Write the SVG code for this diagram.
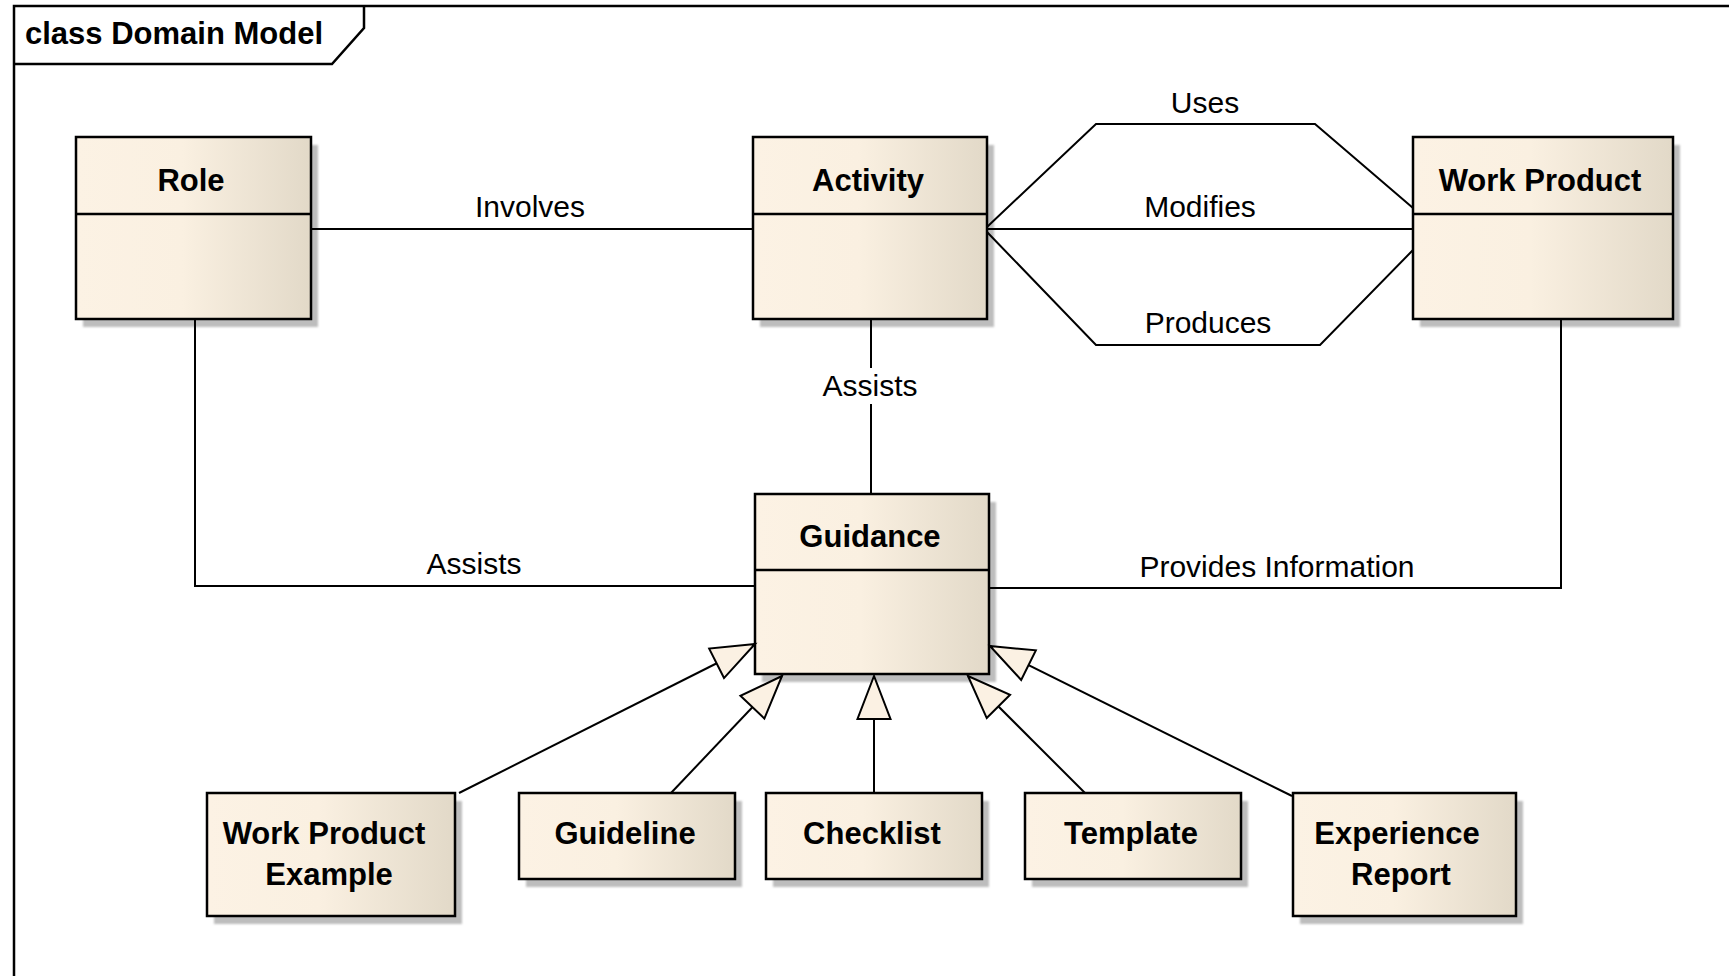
<svg xmlns="http://www.w3.org/2000/svg" width="1729" height="976" viewBox="0 0 1729 976">
<defs>
<linearGradient id="fill" x1="0" y1="0" x2="1" y2="0">
<stop offset="0" stop-color="#fcf2e4"/>
<stop offset="0.45" stop-color="#faf0e1"/>
<stop offset="1" stop-color="#e2d9c8"/>
</linearGradient>
<filter id="blur" x="-5%" y="-5%" width="110%" height="110%"><feGaussianBlur stdDeviation="1.2"/></filter>
<marker id="gen" markerUnits="userSpaceOnUse" markerWidth="50" markerHeight="40" viewBox="0 0 50 40" refX="45" refY="20" orient="auto">
<path d="M45,20 L2,3.5 L2,36.5 Z" fill="#fbf1e3" stroke="#000" stroke-width="2"/>
</marker>
</defs>
<style>
.box{fill:url(#fill);stroke:#000;stroke-width:2.5}
.shadow{fill:#bdbdbd;filter:url(#blur)}
.div{stroke:#000;stroke-width:2.5}
.name{font-family:"Liberation Sans",Arial,sans-serif;font-weight:bold;font-size:31px;text-anchor:middle;fill:#000}
.lbl{font-family:"Liberation Sans",Arial,sans-serif;font-size:30px;text-anchor:middle;fill:#000}
.line{fill:none;stroke:#000;stroke-width:2}
</style>
<rect width="1729" height="976" fill="#ffffff"/>
<g id="frame">
<rect x="14" y="6" width="1760" height="1010" fill="none" stroke="#000" stroke-width="2.5"/>
<path d="M14,64 L332,64 L364,28 L364,6" fill="none" stroke="#000" stroke-width="2.5"/>
<text x="25" y="44" font-family="Liberation Sans, Arial, sans-serif" font-weight="bold" font-size="31">class Domain Model</text>
</g>
<g id="role">
<rect class="shadow" x="83" y="145" width="235" height="182"/>
<rect class="box" x="76" y="137" width="235" height="182"/>
<line class="div" x1="76" y1="214" x2="311" y2="214"/>
<text class="name" x="191" y="191">Role</text>
</g>
<g id="activity">
<rect class="shadow" x="760" y="145" width="234" height="182"/>
<rect class="box" x="753" y="137" width="234" height="182"/>
<line class="div" x1="753" y1="214" x2="987" y2="214"/>
<text class="name" x="868" y="191">Activity</text>
</g>
<g id="work-product">
<rect class="shadow" x="1420" y="145" width="260" height="182"/>
<rect class="box" x="1413" y="137" width="260" height="182"/>
<line class="div" x1="1413" y1="214" x2="1673" y2="214"/>
<text class="name" x="1540" y="191">Work Product</text>
</g>
<g id="guidance">
<rect class="shadow" x="762" y="502" width="234" height="180"/>
<rect class="box" x="755" y="494" width="234" height="180"/>
<line class="div" x1="755" y1="570" x2="989" y2="570"/>
<text class="name" x="870" y="547">Guidance</text>
</g>
<g id="work-product-example">
<rect class="shadow" x="214" y="801" width="248" height="123"/>
<rect class="box" x="207" y="793" width="248" height="123"/>
<text class="name" x="324" y="844">Work Product</text>
<text class="name" x="329" y="885">Example</text>
</g>
<g id="guideline">
<rect class="shadow" x="526" y="801" width="216" height="86"/>
<rect class="box" x="519" y="793" width="216" height="86"/>
<text class="name" x="625" y="844">Guideline</text>
</g>
<g id="checklist">
<rect class="shadow" x="773" y="801" width="216" height="86"/>
<rect class="box" x="766" y="793" width="216" height="86"/>
<text class="name" x="872" y="844">Checklist</text>
</g>
<g id="template">
<rect class="shadow" x="1032" y="801" width="216" height="86"/>
<rect class="box" x="1025" y="793" width="216" height="86"/>
<text class="name" x="1131" y="844">Template</text>
</g>
<g id="experience-report">
<rect class="shadow" x="1300" y="801" width="223" height="123"/>
<rect class="box" x="1293" y="793" width="223" height="123"/>
<text class="name" x="1397" y="844">Experience</text>
<text class="name" x="1401" y="885">Report</text>
</g>
<g id="connectors">
<path class="line" d="M311,229 L753,229"/>
<path class="line" d="M987,227 L1096,124 L1315,124 L1413,208"/>
<path class="line" d="M987,229 L1413,229"/>
<path class="line" d="M987,232 L1096,345 L1320,345 L1413,250"/>
<path class="line" d="M871,319 L871,368 M871,404 L871,494"/>
<path class="line" d="M195,319 L195,586 L755,586"/>
<path class="line" d="M1561,319 L1561,588 L989,588"/>
<path class="line" marker-end="url(#gen)" d="M459,793 L755,644"/>
<path class="line" marker-end="url(#gen)" d="M671,793 L782,676"/>
<path class="line" marker-end="url(#gen)" d="M874,793 L874,676"/>
<path class="line" marker-end="url(#gen)" d="M1085,793 L968,676"/>
<path class="line" marker-end="url(#gen)" d="M1292,796 L990,646"/>
<text class="lbl" x="530" y="217">Involves</text>
<text class="lbl" x="1205" y="113">Uses</text>
<text class="lbl" x="1200" y="217">Modifies</text>
<text class="lbl" x="1208" y="333">Produces</text>
<text class="lbl" x="870" y="396">Assists</text>
<text class="lbl" x="474" y="574">Assists</text>
<text class="lbl" x="1277" y="577">Provides Information</text>
</g>
</svg>
